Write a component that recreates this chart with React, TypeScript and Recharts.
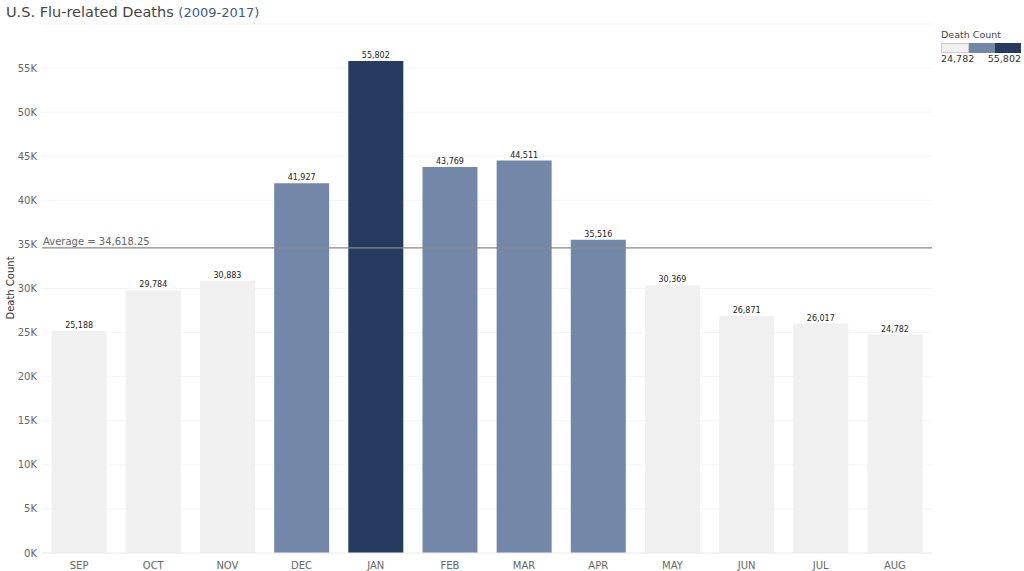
import React from "react";
import {
  BarChart,
  Bar,
  Cell,
  XAxis,
  YAxis,
  CartesianGrid,
  ReferenceLine,
  LabelList,
} from "recharts";

const FONT = "'DejaVu Sans', sans-serif";
const LIGHT = "#f0f0f0";
const MID = "#7388a9";
const DARK = "#253b60";

const months = ["SEP", "OCT", "NOV", "DEC", "JAN", "FEB", "MAR", "APR", "MAY", "JUN", "JUL", "AUG"];
const deaths = [25188, 29784, 30883, 41927, 55802, 43769, 44511, 35516, 30369, 26871, 26017, 24782];
const yTicks = [0, 5000, 10000, 15000, 20000, 25000, 30000, 35000, 40000, 45000, 50000, 55000];
const AVERAGE = 34618.25;

const data = months.map((m, i) => ({ month: m, deaths: deaths[i] }));

const minV = Math.min(...deaths);
const maxV = Math.max(...deaths);

// stepped colour, 3 bins between min and max
function binColor(v: number) {
  const step = (maxV - minV) / 3;
  if (v < minV + step) return LIGHT;
  if (v < minV + 2 * step) return MID;
  return DARK;
}

const fmt = (v: number) => v.toLocaleString("en-US");

export default function App() {
  return (
    <div style={{ position: "absolute", left: 0, top: 0, width: 1024, height: 571, fontFamily: FONT, background: "#fff" }}>
      <div style={{ position: "absolute", left: 6, top: 4, fontSize: 14.5, color: "#444", whiteSpace: "nowrap" }}>
        U.S. Flu-related Deaths <span style={{ color: "#3b5a8f", fontSize: 13 }}>(2009-2017)</span>
      </div>

      <div style={{ position: "absolute", left: 941, top: 29, width: 80, fontSize: 9.5, color: "#444" }}>
        <div>Death Count</div>
        <div style={{ display: "flex", marginTop: 3, height: 10 }}>
          <div style={{ flex: 1, background: LIGHT, border: "1px solid #ccc", boxSizing: "border-box" }} />
          <div style={{ flex: 1, background: MID }} />
          <div style={{ flex: 1, background: DARK }} />
        </div>
        <div style={{ display: "flex", justifyContent: "space-between", fontSize: 9.5, color: "#333", marginTop: 0 }}>
          <span>{fmt(minV)}</span>
          <span>{fmt(maxV)}</span>
        </div>
      </div>

      <div
        style={{
          position: "absolute",
          left: 10,
          top: 288,
          transform: "translate(-50%, -50%) rotate(-90deg)",
          fontSize: 10,
          color: "#333",
          whiteSpace: "nowrap",
        }}
      >
        Death Count
      </div>

      <BarChart
        width={1024}
        height={571}
        data={data}
        margin={{ top: 24, right: 92, bottom: 0, left: 0 }}
        barCategoryGap="13%"
        style={{ position: "absolute", left: 0, top: 0 }}
      >
        <CartesianGrid vertical={false} stroke="#f3f3f3" />
        <XAxis
          dataKey="month"
          height={18}
          axisLine={{ stroke: "#eeeeee" }}
          tickLine={false}
          tickSize={4}
          tickMargin={5}
          tick={{ fill: "#666", fontSize: 10, fontFamily: FONT }}
        />
        <YAxis
          width={42}
          domain={[0, 60000]}
          ticks={yTicks}
          axisLine={false}
          tickLine={false}
          tickSize={3}
          tickMargin={2}
          tickFormatter={(v: number) => `${v / 1000}K`}
          tick={{ fill: "#666", fontSize: 10, fontFamily: FONT }}
        />
        <Bar dataKey="deaths" isAnimationActive={false}>
          {data.map((d, i) => (
            <Cell key={`c-${i}`} fill={binColor(d.deaths)} />
          ))}
          <LabelList
            dataKey="deaths"
            position="top"
            offset={3}
            formatter={(v: number) => fmt(v)}
            style={{ fill: "#222", fontSize: 8, fontFamily: FONT }}
          />
        </Bar>
        <ReferenceLine
          y={AVERAGE}
          stroke="#888"
          strokeWidth={1.2}
          label={{
            value: `Average = ${AVERAGE.toLocaleString("en-US", { minimumFractionDigits: 2 })}`,
            position: "insideTopLeft",
            offset: 0,
            dx: 1,
            dy: -10,
            fill: "#666",
            fontSize: 10,
            fontFamily: FONT,
          }}
        />
      </BarChart>
    </div>
  );
}
